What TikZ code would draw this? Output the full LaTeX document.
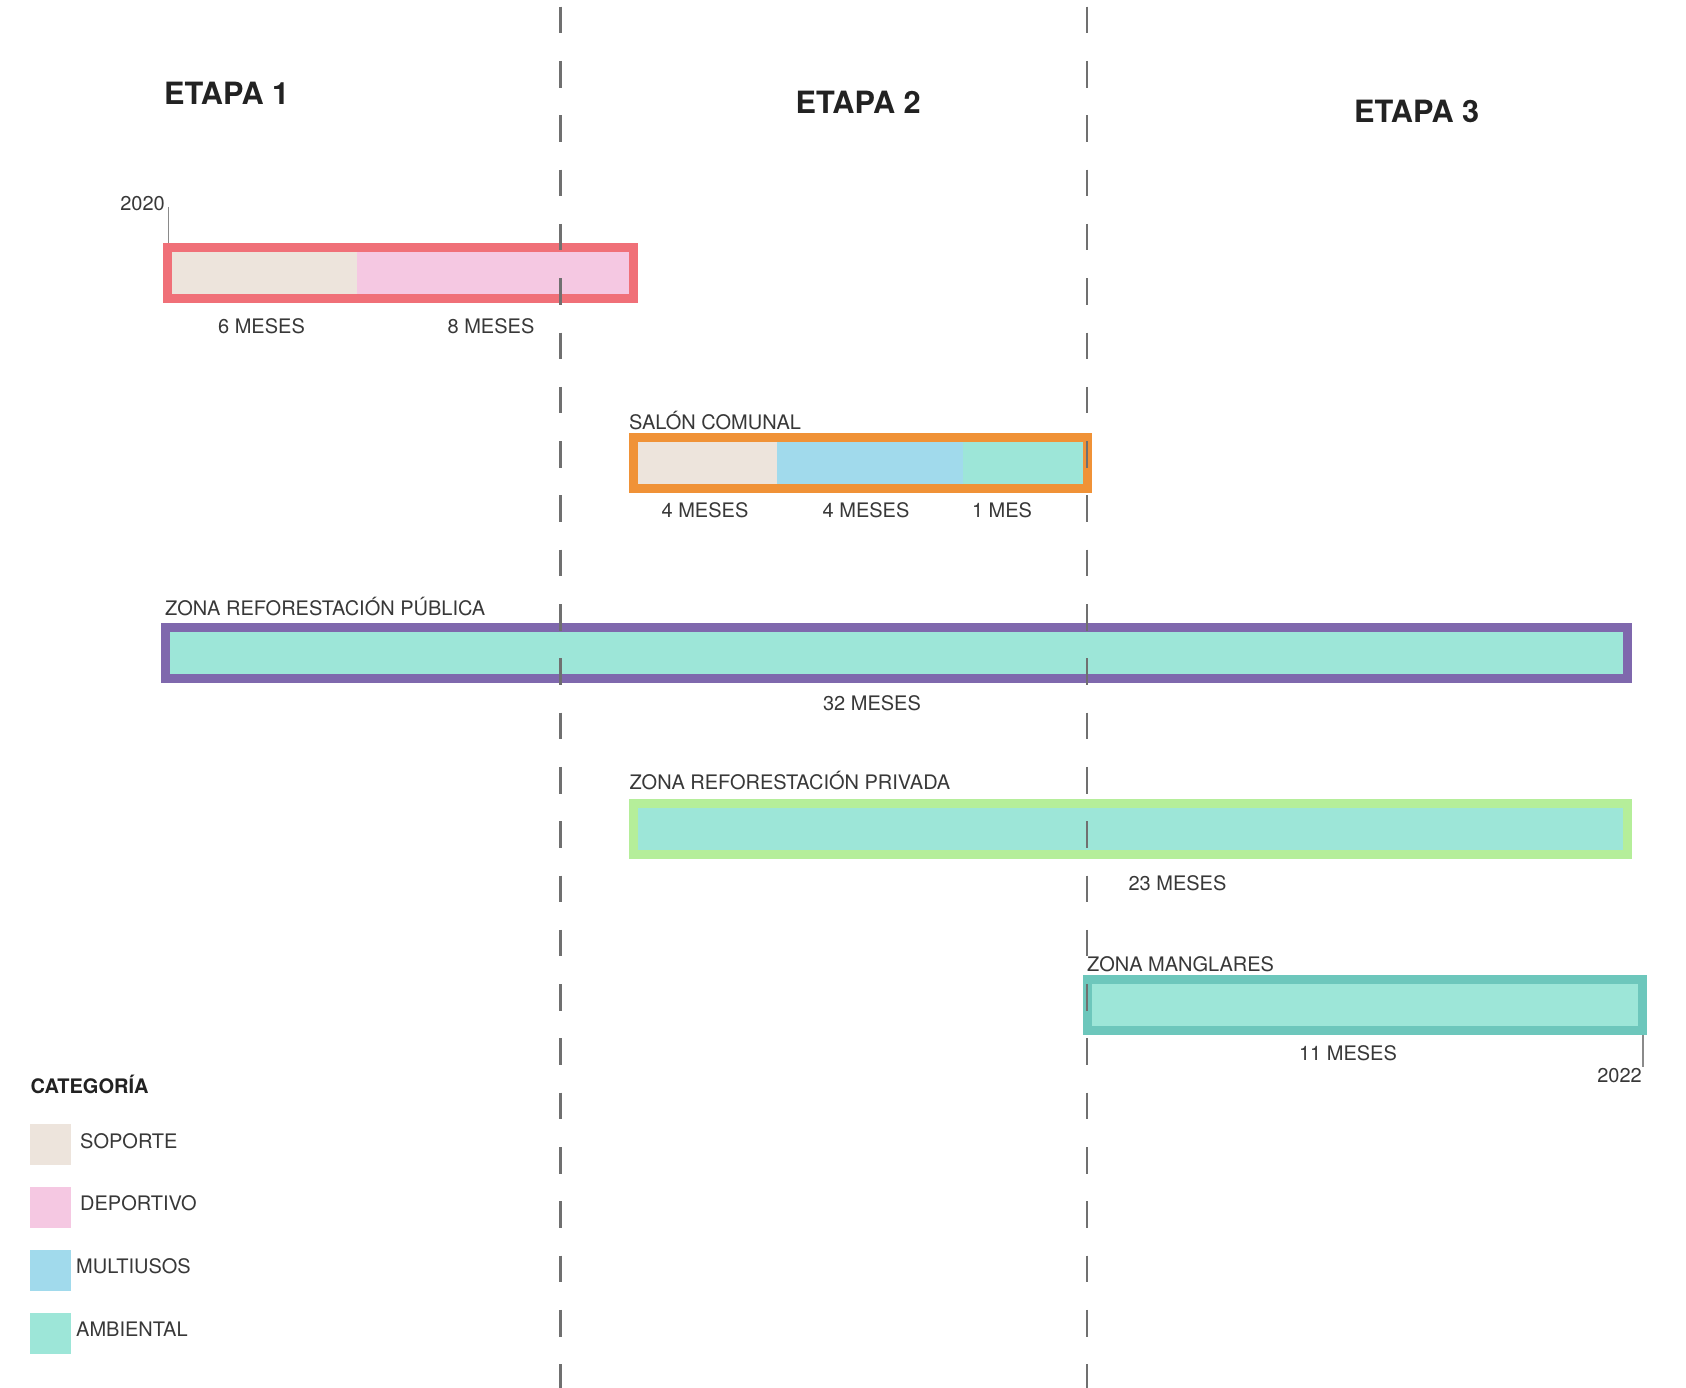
\documentclass[tikz,border=0pt]{standalone}
\usepackage{fontspec}
\setmainfont{TeX Gyre Heros}
\definecolor{soporte}{HTML}{EDE4DC}
\definecolor{deportivo}{HTML}{F5C8E2}
\definecolor{multi}{HTML}{A1DAEC}
\definecolor{amb}{HTML}{9DE6D8}
\definecolor{coral}{HTML}{F07078}
\definecolor{naranja}{HTML}{F09237}
\definecolor{morado}{HTML}{7F68AD}
\definecolor{verde}{HTML}{B5EE9A}
\definecolor{turq}{HTML}{6DC7BC}
\definecolor{txt}{HTML}{383838}
\definecolor{ttl}{HTML}{222222}
\definecolor{guidec}{HTML}{707070}
\definecolor{tickc}{HTML}{8A8A8A}
\tikzset{
  lbl/.style={font=\fontsize{20}{22}\selectfont, text=txt, inner sep=0pt},
  ttlbl/.style={font=\fontsize{30.7}{33}\selectfont\bfseries, text=ttl, inner sep=0pt},
  catlbl/.style={font=\fontsize{20}{22}\selectfont\bfseries, text=ttl, inner sep=0pt},
  guide/.style={draw=guidec, line width=2.2pt, dash pattern=on 26.6pt off 27.7pt, dash phase=47.6pt},
  tickline/.style={draw=tickc, line width=1.2pt},
}
\begin{document}
\begin{tikzpicture}[x=1pt,y=-1pt]
\useasboundingbox (0,0) rectangle (1686,1388);
\fill[white] (0,0) rectangle (1686,1388);

% titles
\node[ttlbl, anchor=base west] (e1) at (164,104.3) {ETAPA 1};
\node[ttlbl, anchor=base west] (e2) at (795.5,113.3) {ETAPA 2};
\node[ttlbl, anchor=base west] (e3) at (1354,122.7) {ETAPA 3};

% bar 1
\fill[coral] (163,243.3) rectangle (638,303.3);
\fill[soporte] (172,252.3) rectangle (357,294.3);
\fill[deportivo] (357,252.3) rectangle (629,294.3);
\node[lbl, anchor=base east] (y2020) at (165,211) {2020};
\coordinate (t1a) at (168.3,207);
\coordinate (t1b) at (168.3,243.3);
\draw[tickline] (t1a) -- (t1b);
\node[lbl, anchor=base] (m6) at (261.5,333) {6 MESES};
\node[lbl, anchor=base] (m8) at (491,333) {8 MESES};

% bar 2
\node[lbl, anchor=base west] (salon) at (629,429) {SALÓN COMUNAL};
\fill[naranja] (629,433) rectangle (1092,493);
\fill[soporte] (638,442) rectangle (777,484);
\fill[multi] (777,442) rectangle (963,484);
\fill[amb] (963,442) rectangle (1083,484);
\node[lbl, anchor=base] (m4a) at (705,517) {4 MESES};
\node[lbl, anchor=base] (m4b) at (866,517) {4 MESES};
\node[lbl, anchor=base] (m1) at (1002,517) {1 MES};

% bar 3
\node[lbl, anchor=base west] (pub) at (165,615.5) {ZONA REFORESTACIÓN PÚBLICA};
\fill[morado] (161,622.5) rectangle (1632,682.5);
\fill[amb] (170,631.5) rectangle (1623,673.5);
\node[lbl, anchor=base] (m32) at (872,710.5) {32 MESES};

% bar 4
\node[lbl, anchor=base west] (priv) at (629.3,789) {ZONA REFORESTACIÓN PRIVADA};
\fill[verde] (629,799) rectangle (1632,859);
\fill[amb] (638,808) rectangle (1623,850);
\node[lbl, anchor=base] (m23) at (1177.5,890) {23 MESES};

% bar 5
\node[lbl, anchor=base west] (mang) at (1087,971.7) {ZONA MANGLARES};
\fill[turq] (1082.5,975) rectangle (1647,1035);
\fill[amb] (1091.5,984) rectangle (1638,1026);
\node[lbl, anchor=base] (m11) at (1348,1060) {11 MESES};
\node[lbl, anchor=base east] (y2022) at (1642,1082) {2022};
\coordinate (t2a) at (1643,1035);
\coordinate (t2b) at (1643,1067);
\draw[tickline] (t2a) -- (t2b);

% guides
\coordinate (g1t) at (560.5,0);
\coordinate (g1b) at (560.5,1388);
\coordinate (g2t) at (1087,0);
\coordinate (g2b) at (1087,1388);
\draw[guide] (g1t) -- (g1b);
\draw[guide] (g2t) -- (g2b);

% legend
\node[catlbl, anchor=base west] (cat) at (30.5,1093.3) {CATEGORÍA};
\fill[soporte] (30,1124) rectangle (71,1165);
\node[lbl, anchor=base west] (lsop) at (80,1148.3) {SOPORTE};
\fill[deportivo] (30,1187) rectangle (71,1228);
\node[lbl, anchor=base west] (ldep) at (80,1210.7) {DEPORTIVO};
\fill[multi] (30,1250) rectangle (71,1291);
\node[lbl, anchor=base west] (lmul) at (76,1273) {MULTIUSOS};
\fill[amb] (30,1313) rectangle (71,1354);
\node[lbl, anchor=base west] (lamb) at (76,1336.7) {AMBIENTAL};
\end{tikzpicture}
\end{document}
